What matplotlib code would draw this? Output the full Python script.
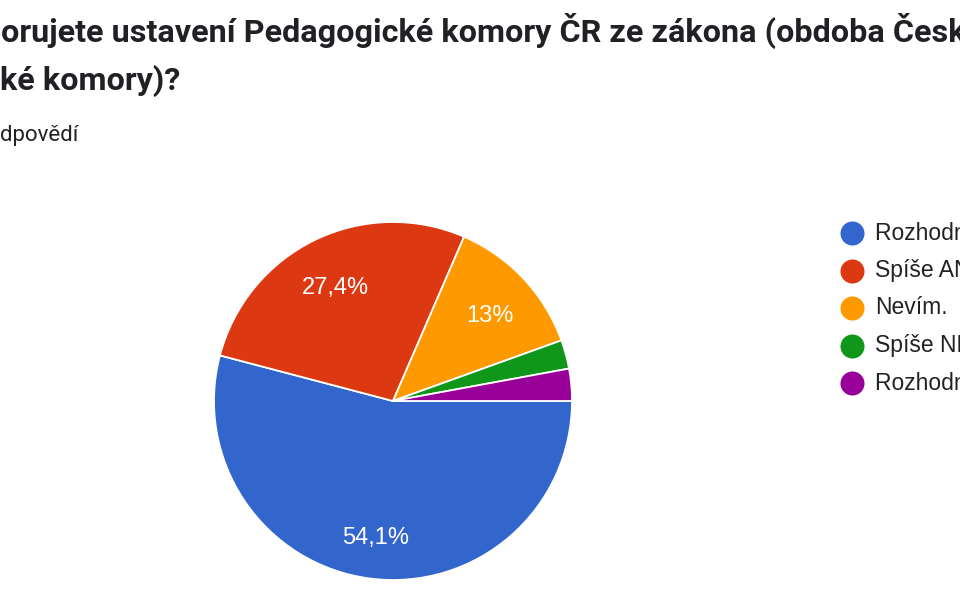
import matplotlib
matplotlib.use('Agg')
import matplotlib.pyplot as plt

# Data
labels = ['Rozhodně ANO', 'Spíše ANO', 'Nevím.', 'Spíše NE', 'Rozhodně NE']
values = [54.1, 27.4, 13.0, 2.6, 2.9]
colors = ['#3366cc', '#dc3912', '#ff9900', '#109618', '#990099']

# the screenshot is cropped; (hidden part, visible part) of each header line
title_line1 = ('Podp', 'orujete ustavení Pedagogické komory ČR ze zákona (obdoba České')
title_line2 = ('lékařs', 'ké komory)?')
subtitle = ('157 o', 'dpovědí')

W, H = 960, 600
fig = plt.figure(figsize=(9.6, 6), dpi=100)


def clipped_text(parts, x_px, y_px, **kw):
    hidden, visible = parts
    y = 1 - y_px / H
    fig.text(x_px / W, y, hidden, ha='right', va='baseline', **kw)
    fig.text(x_px / W, y, visible, ha='left', va='baseline', **kw)


title_kw = dict(fontsize=23.3, fontweight='bold', family='Roboto', color='#202124')
clipped_text(title_line1, 1, 42, **title_kw)
clipped_text(title_line2, 0, 90, **title_kw)
clipped_text(subtitle, 0, 141, fontsize=16, family='Roboto', color='#202124')

# Pie: centre (393, 401) px, radius 179 px
cx, cy, r = 393, 401, 179
lim = 1.1
size = r * lim
ax = fig.add_axes([(cx - size) / W, (H - cy - size) / H, 2 * size / W, 2 * size / H])


def fmt(pct):
    if pct < 5:
        return ''
    s = ('%.1f' % pct).rstrip('0').rstrip('.')
    return s.replace('.', ',') + '%'


wedges, _, autotexts = ax.pie(values, colors=colors, startangle=0, counterclock=False,
                              autopct=fmt, pctdistance=0.74, radius=1,
                              wedgeprops=dict(edgecolor='white', linewidth=1.3))
for t in autotexts:
    t.set_color('white')
    t.set_fontsize(17)
    t.set_family('Liberation Sans')
    x, y = t.get_position()
    t.set_position((x, y - 6 / r))
ax.set_xlim(-lim, lim)
ax.set_ylim(-lim, lim)
ax.axis('off')

# Legend (cut at the right edge), drawn in pixel coordinates
lax = fig.add_axes([0, 0, 1, 1], facecolor='none')
lax.set_xlim(0, W)
lax.set_ylim(H, 0)
lax.axis('off')
y0, step = 233, 37.5
for i, (lab, col) in enumerate(zip(labels, colors)):
    y = y0 + i * step
    lax.scatter(852, y, s=24 ** 2 * 0.52, color=col, linewidths=0)
    lax.text(875, y, lab, color='#222222', fontsize=16.5, ha='left', va='center',
             family='Liberation Sans')

fig.savefig('out.png', dpi=100)
